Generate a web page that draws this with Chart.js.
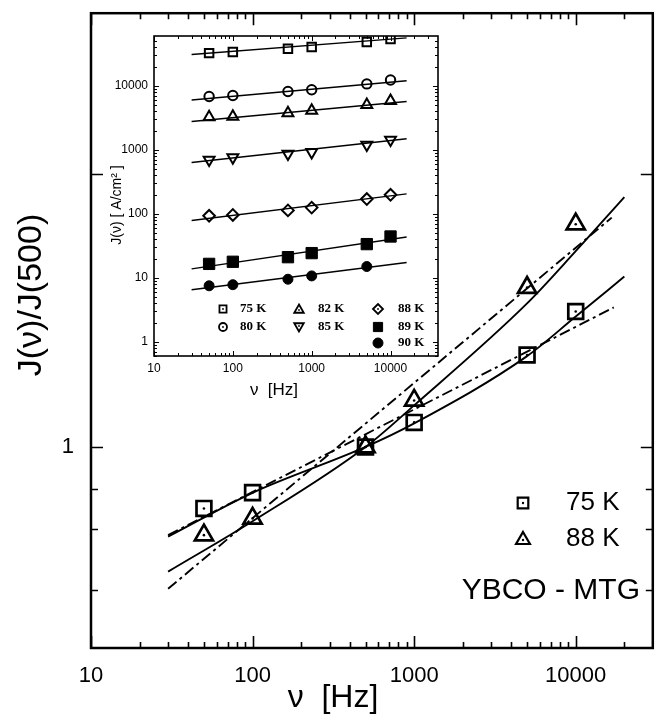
<!DOCTYPE html>
<html>
<head>
<meta charset="utf-8">
<script src="https://cdn.jsdelivr.net/npm/chart.js@4.4.1/dist/chart.umd.min.js"></script>
<style>
  html, body { margin: 0; padding: 0; background: #fff; }
  #wrap { position: relative; width: 666px; height: 714px; }
  #mainChart { position: absolute; left: 0; top: 0; }
  #insetChart { position: absolute; left: 100px; top: 20px; }
</style>
</head>
<body>
<div id="wrap">
  <canvas id="mainChart" width="666" height="714"></canvas>
  <canvas id="insetChart" width="360" height="390"></canvas>
</div>
<script>
// main plot: J(v)/J(500)
const freqMain = [50, 100, 500, 1000, 5000, 10000];
const ratio75 = [0.596, 0.681, 1.0, 1.23, 2.17, 3.13];
const ratio88 = [0.476, 0.548, 1.0, 1.48, 3.83, 6.53];

// fitted curves
const fitFreq = [30, 100, 500, 1000, 5000, 10000, 20000];
const fit75Solid = [0.47, 0.68, 1.0, 1.22, 2.15, 3.0, 4.2];
const fit88Solid = [0.35, 0.535, 1.0, 1.42, 3.35, 5.2, 8.2];
const dashFreq75 = [30, 17200];
const fit75Dash = [0.476, 3.24];
const dashFreq88 = [30, 16700];
const fit88Dash = [0.303, 6.9];

const mainXTicks = [10, 100, 1000, 10000];
const mainYMajor = [1, 10];
const mainYMinor = [0.3, 0.5, 0.7];
const mainYLabels = [1];

// inset: J(v) in A/cm2
const freqInset = [50, 100, 500, 1000, 5000, 10000];
const j75 = [32400, 33700, 38000, 40300, 48200, 53700];
const j80 = [6800, 7050, 8150, 8660, 10700, 12300];
const j82 = [3240, 3310, 3740, 4110, 5050, 5830];
const j85 = [698, 759, 866, 920, 1197, 1433];
const j88 = [93, 96, 113, 125, 170, 198];
const j89 = [16.5, 17.8, 21, 24.3, 33.6, 44.2];
const j90 = [7.5, 7.8, 9.5, 10.7, 15];

const fitFreqInset = [30, 16000];
const fitJ75 = [30800, 56000];
const fitJ80 = [6000, 12000];
const fitJ82 = [2770, 5690];
const fitJ85 = [634, 1486];
const fitJ88 = [78.6, 205];
const fitJ89 = [13.8, 43.3];
const fitJ90 = [6.5, 17.3];

const insetXTicks = [10, 100, 1000, 10000];
const insetYTicks = [1, 10, 100, 1000, 10000];

const SANS = '"Liberation Sans", Arial, sans-serif';
const SERIF = '"Liberation Serif", "Times New Roman", serif';

function toXY(xs, ys) {
    return ys.map((y, i) => ({ x: xs[i], y: y }));
}

function minorTicks(lo, hi) {
    const out = [];
    for (let e = -3; e <= 6; e++) {
        for (let k = 2; k <= 9; k++) {
            const v = k * Math.pow(10, e);
            if (v > lo && v < hi) out.push(v);
        }
    }
    return out;
}

// ticks pointing inwards on all four sides + the frame
const frameTicks = {
    id: 'frameTicks',
    afterDraw(chart, args, opts) {
        const { ctx, chartArea: a, scales } = chart;
        ctx.save();
        ctx.strokeStyle = '#000';
        ctx.lineWidth = opts.tickWidth;
        ctx.beginPath();
        (opts.x || []).forEach(t => {
            const px = Math.round(scales.x.getPixelForValue(t.v)) + 0.5;
            ctx.moveTo(px, a.bottom); ctx.lineTo(px, a.bottom - t.len);
            ctx.moveTo(px, a.top); ctx.lineTo(px, a.top + t.len);
        });
        (opts.y || []).forEach(t => {
            const py = Math.round(scales.y.getPixelForValue(t.v)) + 0.5;
            ctx.moveTo(a.left, py); ctx.lineTo(a.left + t.len, py);
            ctx.moveTo(a.right, py); ctx.lineTo(a.right - t.len, py);
        });
        ctx.stroke();
        ctx.lineWidth = opts.frameWidth;
        ctx.strokeRect(a.left, a.top, a.right - a.left, a.bottom - a.top);
        ctx.restore();
    }
};

function drawMarker(ctx, style, x, y, r, rot, filled, lw) {
    ctx.save();
    ctx.strokeStyle = '#000';
    ctx.fillStyle = filled ? '#000' : 'rgba(0,0,0,0)';
    ctx.lineWidth = lw;
    Chart.helpers.drawPoint(ctx, { pointStyle: style, rotation: rot, radius: r, borderWidth: lw }, x, y);
    ctx.restore();
}

// titles, legends and free text
const texts = {
    id: 'texts',
    afterDraw(chart, args, opts) {
        const ctx = chart.ctx;
        (opts.markers || []).forEach(m => {
            drawMarker(ctx, m.style, m.x, m.y, m.r, m.rot || 0, m.filled, m.lw);
            if (m.dot) {
                ctx.beginPath();
                ctx.fillStyle = '#000';
                ctx.arc(m.x, m.y, m.dot, 0, Math.PI * 2);
                ctx.fill();
            }
        });
        (opts.items || []).forEach(t => {
            ctx.save();
            ctx.fillStyle = '#000';
            ctx.font = t.font;
            ctx.textAlign = t.align || 'center';
            ctx.textBaseline = 'middle';
            ctx.translate(t.x, t.y);
            if (t.rot) ctx.rotate(t.rot);
            ctx.fillText(t.text, 0, 0);
            ctx.restore();
        });
    }
};

function markerSet(xs, ys, style, r, opt) {
    return Object.assign({
        data: toXY(xs, ys),
        showLine: false,
        pointStyle: style,
        pointRadius: r,
        pointHoverRadius: r,
        pointBorderColor: '#000',
        pointBackgroundColor: 'rgba(0,0,0,0)',
        pointBorderWidth: 2,
        order: 0
    }, opt || {});
}

function lineSet(xs, ys, opt) {
    return Object.assign({
        data: toXY(xs, ys),
        showLine: true,
        pointRadius: 0,
        borderColor: '#000',
        borderWidth: 1.9,
        order: 1
    }, opt || {});
}

const dashDot = [11, 4, 3, 4];

new Chart(document.getElementById('mainChart'), {
    type: 'scatter',
    data: {
        datasets: [
            markerSet(freqMain, ratio75, 'rect', 10.5, { pointBorderWidth: 2.7 }),
            markerSet(freqMain, ratio88, 'triangle', 10.5, { pointBorderWidth: 2.7 }),
            markerSet(freqMain, ratio75, 'circle', 1.3, { pointBackgroundColor: '#000', pointBorderWidth: 0 }),
            markerSet(freqMain, ratio88, 'circle', 1.3, { pointBackgroundColor: '#000', pointBorderWidth: 0 }),
            lineSet(fitFreq, fit75Solid, { cubicInterpolationMode: 'monotone' }),
            lineSet(fitFreq, fit88Solid, { cubicInterpolationMode: 'monotone' }),
            lineSet(dashFreq75, fit75Dash, { borderDash: dashDot }),
            lineSet(dashFreq88, fit88Dash, { borderDash: dashDot })
        ]
    },
    options: {
        responsive: false,
        animation: false,
        layout: { padding: { left: 0, right: 11, top: 7, bottom: 0 } },
        scales: {
            x: {
                type: 'logarithmic',
                min: 10,
                max: 30000,
                grid: { display: false, drawTicks: false },
                border: { display: false },
                afterBuildTicks: s => { s.ticks = mainXTicks.map(v => ({ value: v })); },
                afterFit: s => { s.height = 66; s.paddingLeft = 0; s.paddingRight = 0; },
                ticks: {
                    autoSkip: false, maxRotation: 0, padding: 15, color: '#000',
                    font: { family: SANS, size: 22 },
                    callback: v => String(v)
                }
            },
            y: {
                type: 'logarithmic',
                min: 0.184,
                max: 38.6,
                grid: { display: false, drawTicks: false },
                border: { display: false },
                afterBuildTicks: s => { s.ticks = mainYMajor.concat(mainYMinor).map(v => ({ value: v })); },
                afterFit: s => { s.width = 91; s.paddingTop = 0; s.paddingBottom = 0; },
                ticks: {
                    autoSkip: false, padding: 17, color: '#000',
                    font: { family: SANS, size: 22 },
                    callback: v => mainYLabels.includes(v) ? String(v) : ''
                }
            }
        },
        plugins: {
            legend: { display: false },
            tooltip: { enabled: false },
            frameTicks: {
                frameWidth: 2.5, tickWidth: 1.6,
                x: mainXTicks.map(v => ({ v: v, len: 12 })).concat(minorTicks(10, 30000).map(v => ({ v: v, len: 6 }))),
                y: mainYMajor.map(v => ({ v: v, len: 12 })).concat(mainYMinor.map(v => ({ v: v, len: 7 })))
            },
            texts: {
                markers: [
                    { style: 'rect', x: 523, y: 503, r: 7.5, lw: 2.2, dot: 1.2 },
                    { style: 'triangle', x: 523, y: 540, r: 8, lw: 2.2, dot: 1.2 }
                ],
                items: [
                    { text: 'J(\u03bd)/J(500)', x: 32, y: 295, rot: -Math.PI / 2, font: '34px ' + SANS },
                    { text: '\u03bd  [Hz]', x: 333, y: 698, font: '32px ' + SANS },
                    { text: '75 K', x: 566, y: 503, align: 'left', font: '26px ' + SANS },
                    { text: '88 K', x: 566, y: 539, align: 'left', font: '26px ' + SANS },
                    { text: 'YBCO - MTG', x: 640, y: 591, align: 'right', font: '30px ' + SANS }
                ]
            }
        }
    },
    plugins: [frameTicks, texts]
});

// inset chart
const insetMarkerBase = { pointBorderWidth: 2 };
new Chart(document.getElementById('insetChart'), {
    type: 'scatter',
    data: {
        datasets: [
            markerSet(freqInset, j75, 'rect', 6, insetMarkerBase),
            markerSet(freqInset, j80, 'circle', 4.7, insetMarkerBase),
            markerSet(freqInset, j82, 'triangle', 6.3, insetMarkerBase),
            markerSet(freqInset, j85, 'triangle', 6.3, Object.assign({ rotation: 180 }, insetMarkerBase)),
            markerSet(freqInset, j88, 'rectRot', 5.8, insetMarkerBase),
            markerSet(freqInset, j89, 'rect', 8, { pointBackgroundColor: '#000', pointBorderWidth: 1 }),
            markerSet(freqInset, j90, 'circle', 5, { pointBackgroundColor: '#000', pointBorderWidth: 1 }),
            lineSet(fitFreqInset, fitJ75, { borderWidth: 1.4 }),
            lineSet(fitFreqInset, fitJ80, { borderWidth: 1.4 }),
            lineSet(fitFreqInset, fitJ82, { borderWidth: 1.4 }),
            lineSet(fitFreqInset, fitJ85, { borderWidth: 1.4 }),
            lineSet(fitFreqInset, fitJ88, { borderWidth: 1.4 }),
            lineSet(fitFreqInset, fitJ89, { borderWidth: 1.4 }),
            lineSet(fitFreqInset, fitJ90, { borderWidth: 1.4 })
        ]
    },
    options: {
        responsive: false,
        animation: false,
        layout: { padding: { left: 0, right: 22, top: 16, bottom: 0 } },
        scales: {
            x: {
                type: 'logarithmic',
                min: 10,
                max: 40000,
                grid: { display: false, drawTicks: false },
                border: { display: false },
                afterBuildTicks: s => { s.ticks = insetXTicks.map(v => ({ value: v })); },
                afterFit: s => { s.height = 54; s.paddingLeft = 0; s.paddingRight = 0; },
                ticks: {
                    autoSkip: false, maxRotation: 0, padding: 5, color: '#000',
                    font: { family: SANS, size: 12 },
                    callback: v => String(v)
                }
            },
            y: {
                type: 'logarithmic',
                min: 0.6,
                max: 60000,
                grid: { display: false, drawTicks: false },
                border: { display: false },
                afterBuildTicks: s => { s.ticks = insetYTicks.map(v => ({ value: v })); },
                afterFit: s => { s.width = 54; s.paddingTop = 0; s.paddingBottom = 0; },
                ticks: {
                    autoSkip: false, padding: 6, color: '#000',
                    font: { family: SANS, size: 12 },
                    callback: v => String(v)
                }
            }
        },
        plugins: {
            legend: { display: false },
            tooltip: { enabled: false },
            frameTicks: {
                frameWidth: 1.6, tickWidth: 1,
                x: insetXTicks.map(v => ({ v: v, len: 5 })).concat(minorTicks(10, 40000).map(v => ({ v: v, len: 3 }))),
                y: insetYTicks.map(v => ({ v: v, len: 5 })).concat(minorTicks(0.6, 60000).map(v => ({ v: v, len: 3 })))
            },
            texts: {
                markers: [
                    { style: 'rect', x: 123, y: 289, r: 5, lw: 1.8, dot: 0.9 },
                    { style: 'circle', x: 123, y: 307, r: 4, lw: 1.8, dot: 0.9 },
                    { style: 'triangle', x: 199, y: 290, r: 5.5, lw: 1.8, dot: 0.9 },
                    { style: 'triangle', x: 199, y: 306, r: 5.5, rot: 180, lw: 1.8, dot: 0.9 },
                    { style: 'rectRot', x: 278, y: 289, r: 5, lw: 1.8, dot: 0.9 },
                    { style: 'rect', x: 278, y: 307, r: 6.5, lw: 1, filled: true },
                    { style: 'circle', x: 278, y: 323, r: 5, lw: 1, filled: true }
                ],
                items: [
                    { text: '75 K', x: 140, y: 289, align: 'left', font: 'bold 13px ' + SERIF },
                    { text: '80 K', x: 140, y: 307, align: 'left', font: 'bold 13px ' + SERIF },
                    { text: '82 K', x: 218, y: 289, align: 'left', font: 'bold 13px ' + SERIF },
                    { text: '85 K', x: 218, y: 307, align: 'left', font: 'bold 13px ' + SERIF },
                    { text: '88 K', x: 298, y: 289, align: 'left', font: 'bold 13px ' + SERIF },
                    { text: '89 K', x: 298, y: 307, align: 'left', font: 'bold 13px ' + SERIF },
                    { text: '90 K', x: 298, y: 323, align: 'left', font: 'bold 13px ' + SERIF },
                    { text: 'J(\u03bd) [ A/cm\u00b2 ]', x: 17, y: 185, rot: -Math.PI / 2, font: '14px ' + SANS },
                    { text: '\u03bd  [Hz]', x: 174, y: 370, font: '17px ' + SANS }
                ]
            }
        }
    },
    plugins: [frameTicks, texts]
});
</script>
</body>
</html>
